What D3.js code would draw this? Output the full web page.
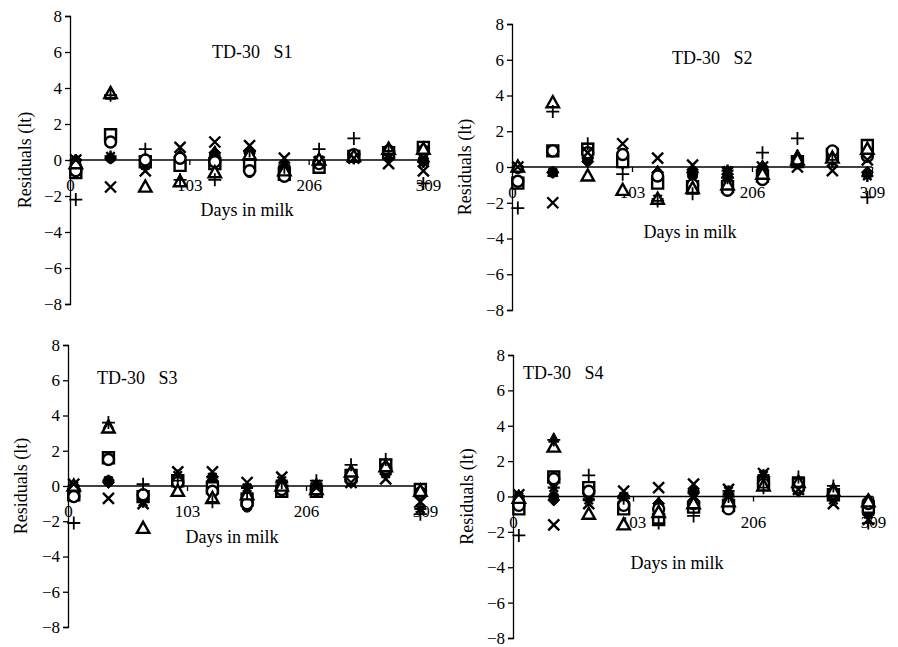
<!DOCTYPE html>
<html>
<head>
<meta charset="utf-8">
<script src="https://cdn.jsdelivr.net/npm/d3@7"></script>
<style>
  body { margin: 0; background: #fff; }
  svg { display: block; }
  text { font-family: "Liberation Serif", "Times New Roman", serif; fill: #000; }
</style>
</head>
<body>
<div id="chart"></div>
<script>
// test days (TD-30) and tick labels
var days = [5, 35, 65, 95, 125, 155, 185, 215, 245, 275, 305];
var xTicks = [0, 103, 206, 309];
var yTicks = [-8, -6, -4, -2, 0, 2, 4, 6, 8];
var seriesNames = ['diamond', 'filledTriangle', 'filledCircle', 'asterisk',
                   'square', 'circle', 'triangle', 'cross', 'plus'];
var panelTitles = ['TD-30   S1', 'TD-30   S2', 'TD-30   S3', 'TD-30   S4'];

// residuals per series (order of seriesNames), one row per series
var s1 = [
  [0, 0.1, -0.2, 0.2, 0.4, -0.6, -0.4, -0.1, 0.1, 0.3, -0.1],
  [0, 3.6, 0.1, 0.3, 0.5, 0.5, -0.2, 0.1, 0.2, 0.7, 0.3],
  [-0.1, 0.1, -0.1, 0.1, 0.3, -0.7, -0.8, -0.1, 0.3, 0.4, 0],
  [0, 0.2, -0.3, 0, 0.2, 0.4, -0.3, 0, 0.1, 0.2, -0.1],
  [-0.7, 1.4, -0.1, -0.3, -0.2, -0.3, -0.8, -0.4, 0.2, 0.4, 0.7],
  [-0.6, 1.0, 0, 0.1, -0.1, -0.6, -0.9, -0.2, 0.3, 0.5, 0.5],
  [-0.2, 3.7, -1.5, -1.2, -0.7, 0.3, -0.6, 0, 0.2, 0.6, 0.6],
  [0, -1.5, -0.6, 0.7, 1.0, 0.8, 0.1, -0.1, 0.1, -0.2, -0.6],
  [-2.2, 3.6, 0.6, -1.1, -1.1, 0.5, -0.4, 0.6, 1.2, 0.5, -1.3]
];
var s2 = [
  [0, -0.3, 0.3, 0.3, -0.3, -0.3, -0.4, 0, 0.3, 0.4, -0.3],
  [0.1, -0.3, 0.6, 0.4, -0.2, -0.2, -0.2, 0.1, 0.7, 0.6, 0.8],
  [-0.1, -0.3, 0.4, 0.3, -0.4, -0.5, -0.8, -0.2, 0.4, 0.8, -0.4],
  [0, -0.3, 0.5, 0.2, -1.8, -0.3, -0.2, -0.1, 0.2, 0.3, -0.5],
  [-0.9, 0.9, 1.0, 0.3, -0.9, -1.1, -1.1, -0.5, 0.3, 0.7, 1.2],
  [-0.8, 0.9, 0.8, 0.7, -0.5, -1.0, -1.3, -0.7, 0.3, 0.9, 0.6],
  [0, 3.6, -0.5, -1.3, -1.8, -1.2, -1.0, -0.4, 0.4, 0.5, 1.0],
  [0, -2.0, 0.8, 1.3, 0.5, 0.1, -0.3, 0, 0, -0.2, 0.4],
  [-2.3, 3.1, 1.3, -0.4, -1.9, -1.5, -0.6, 0.8, 1.6, 0.4, -1.7]
];
var s3 = [
  [0, 0.2, -0.7, 0.2, 0.3, -0.9, -0.2, -0.2, 0.2, 0.8, -0.3],
  [0.1, 3.5, -0.4, 0.5, 0.4, -0.3, 0.3, 0, 0.9, 1.3, -0.2],
  [-0.1, 0.3, -0.6, 0.1, -0.4, -1.2, -0.2, -0.3, 0.5, 1.1, -0.5],
  [0, 0.3, -0.9, 0.6, 0.5, -0.1, 0.3, 0.1, 0.3, 0.7, -1.3],
  [-0.5, 1.6, -0.6, 0.3, -0.1, -0.8, -0.3, -0.3, 0.6, 1.2, -0.2],
  [-0.6, 1.5, -0.5, 0.2, -0.3, -1.0, -0.2, -0.2, 0.4, 1.0, -0.4],
  [0, 3.3, -2.4, -0.3, -0.7, -0.5, 0, -0.2, 0.8, 1.1, -0.3],
  [0.1, -0.7, -1.0, 0.8, 0.8, 0.2, 0.5, -0.1, 0.2, 0.4, -0.9],
  [-2.1, 3.6, 0.1, 0.3, -0.9, -0.4, 0.2, 0.3, 1.2, 1.5, -1.6]
];
var s4 = [
  [0, -0.2, 0.1, -0.3, -0.4, 0.2, -0.2, 0.8, 0.3, -0.1, -0.2],
  [0.1, 3.3, 0.4, -0.2, -0.3, 0.4, 0.2, 1.2, 0.9, 0.5, -0.1],
  [-0.2, 0, 0.2, -0.4, -0.5, -0.3, -0.5, 0.6, 0.4, 0.1, -0.5],
  [0, 0.5, -0.2, 0, -1.0, 0.3, 0.3, 1.2, 0.5, -0.2, -1.0],
  [-0.7, 1.1, 0.5, -0.7, -1.3, -0.6, -0.5, 0.8, 0.7, 0.1, -0.6],
  [-0.5, 1.0, 0.3, -0.5, -0.7, -0.4, -0.7, 0.7, 0.5, 0.2, -0.4],
  [-0.1, 2.8, -1.0, -1.6, -0.9, -0.4, -0.3, 0.6, 0.8, 0.3, -0.3],
  [0.1, -1.6, -0.4, 0.3, 0.5, 0.7, 0.4, 1.3, 0.4, -0.4, -1.3],
  [-2.2, 3.2, 1.2, -0.1, -1.5, -1.1, 0, 0.5, 1.1, 0.6, -1.5]
];
var panelData = [s1, s2, s3, s4];

// panel placement in the page
var layout = [
  {x0: 70, x1: 428, top: 16, bottom: 304, title: [212, 58], xlab: [247, 216], ylab: 25},
  {x0: 512, x1: 872, top: 24, bottom: 310, title: [672, 64], xlab: [690, 238], ylab: 465},
  {x0: 68, x1: 425, top: 345, bottom: 627, title: [97, 384], xlab: [232, 543], ylab: 21},
  {x0: 513, x1: 873, top: 355, bottom: 638, title: [523, 379], xlab: [677, 569], ylab: 467}
];

function shapePath(name) {
  var r;
  switch (name) {
    case 'plus': r = 6.5; return 'M' + -r + ',0H' + r + 'M0,' + -r + 'V' + r;
    case 'cross': r = 5.5; return 'M' + -r + ',' + -r + 'L' + r + ',' + r + 'M' + -r + ',' + r + 'L' + r + ',' + -r;
    case 'asterisk': r = 6;
      return 'M0,' + -r + 'V' + r + 'M' + -r + ',0H' + r +
        'M-4.2,-4.2L4.2,4.2M-4.2,4.2L4.2,-4.2';
    case 'triangle': return 'M0,-6.5L6.2,4.6L-6.2,4.6Z';
    case 'filledTriangle': return 'M0,-5.5L5.2,4L-5.2,4Z';
    case 'square': r = 5.5; return 'M' + -r + ',' + -r + 'H' + r + 'V' + r + 'H' + -r + 'Z';
    case 'diamond': r = 6; return 'M0,' + -r + 'L' + r + ',0L0,' + r + 'L' + -r + ',0Z';
    default: return null;
  }
}

var svg = d3.select('#chart').append('svg')
  .attr('width', 898)
  .attr('height', 647);

layout.forEach(function (L, i) {
  var x = d3.scaleLinear().domain([0, 309]).range([L.x0, L.x1]);
  var y = d3.scaleLinear().domain([-8, 8]).range([L.bottom, L.top]);
  var g = svg.append('g').attr('class', 'panel');

  // Y axis
  var yAxis = d3.axisLeft(y).tickValues(yTicks).tickSize(5).tickPadding(3)
    .tickFormat(d3.format('d'));
  g.append('g')
    .attr('transform', 'translate(' + L.x0 + ',0)')
    .call(yAxis)
    .call(function (a) {
      a.select('.domain').attr('stroke-width', 1.3);
      a.selectAll('line').attr('stroke-width', 1.3);
      a.selectAll('text').style('font-size', '17px').attr('font-family', null);
    });

  // X axis on the zero line
  var xAxis = d3.axisBottom(x).tickValues(xTicks).tickSize(5).tickPadding(14);
  g.append('g')
    .attr('transform', 'translate(0,' + y(0) + ')')
    .call(xAxis)
    .call(function (a) {
      a.select('.domain').attr('d', 'M' + L.x0 + ',0H' + L.x1).attr('stroke-width', 1.5);
      a.selectAll('line').attr('stroke-width', 1.3);
      a.selectAll('text').style('font-size', '17px').attr('font-family', null);
    });

  // points
  var rows = panelData[i];
  seriesNames.forEach(function (name, k) {
    var pts = days.map(function (d, j) { return {day: d, v: rows[k][j]}; });
    var sel = g.append('g').attr('class', 'series ' + name)
      .selectAll('.pt').data(pts).enter();
    if (name === 'circle' || name === 'filledCircle') {
      sel.append('circle')
        .attr('cx', function (d) { return x(d.day); })
        .attr('cy', function (d) { return y(d.v); })
        .attr('r', name === 'circle' ? 5.5 : 5)
        .attr('fill', name === 'circle' ? '#fff' : '#000')
        .attr('stroke', '#000')
        .attr('stroke-width', name === 'circle' ? 2.4 : 1);
    } else {
      var open = name === 'square' || name === 'triangle';
      var filled = name === 'diamond' || name === 'filledTriangle';
      sel.append('path')
        .attr('transform', function (d) { return 'translate(' + x(d.day) + ',' + y(d.v) + ')'; })
        .attr('d', shapePath(name))
        .attr('fill', open ? '#fff' : (filled ? '#000' : 'none'))
        .attr('stroke', '#000')
        .attr('stroke-width', name === 'plus' ? 1.8 : (filled ? 1 : 2.4));
    }
  });

  // texts
  g.append('text')
    .attr('x', L.title[0]).attr('y', L.title[1])
    .style('font-size', '18px').style('white-space', 'pre')
    .text(panelTitles[i]);
  g.append('text')
    .attr('x', L.xlab[0]).attr('y', L.xlab[1])
    .attr('text-anchor', 'middle')
    .style('font-size', '18px')
    .text('Days in milk');
  g.append('text')
    .attr('transform', 'translate(' + L.ylab + ',' + y(0) + ') rotate(-90)')
    .attr('text-anchor', 'middle')
    .attr('dy', '0.35em')
    .style('font-size', '18px')
    .text('Residuals (lt)');
});
</script>
</body>
</html>
